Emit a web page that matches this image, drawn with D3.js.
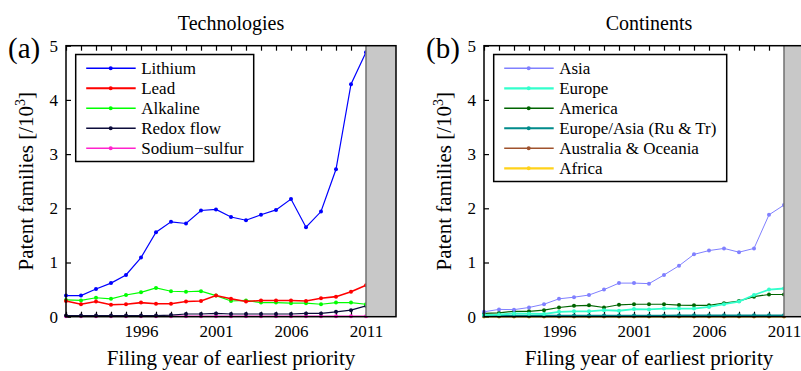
<!DOCTYPE html>
<html lang="en">
<head>
  <meta charset="UTF-8">
  <title>Patent families</title>
  <script src="https://d3js.org/d3.v7.min.js"></script>
  <style>
    body { margin: 0; background: #fff; }
    svg { display: block; font-family: "Liberation Serif", "Times New Roman", serif; }
    .tick text { font-family: "Liberation Serif", "Times New Roman", serif; font-size: 17px; fill: #000; }
    .tick line { stroke: #000; stroke-width: 1.2px; }
    .domain { display: none; }
  </style>
</head>
<body>
  <svg id="chart" width="801" height="371"></svg>

  <script>
    // ----- data -----
    const years = [1991, 1992, 1993, 1994, 1995, 1996, 1997, 1998, 1999, 2000, 2001,
                   2002, 2003, 2004, 2005, 2006, 2007, 2008, 2009, 2010, 2011];
    const labeledYears = [1996, 2001, 2006, 2011];
    const yTicks = [0, 1, 2, 3, 4, 5];

    const techNames = ["Lithium", "Lead", "Alkaline", "Redox flow", "Sodium\u2212sulfur"];
    const techColors = ["#0000ff", "#ff0000", "#00ff00", "#0c0c3a", "#ff22cc"];
    const lithium = [0.39, 0.39, 0.51, 0.62, 0.77, 1.09, 1.56, 1.75, 1.72, 1.96, 1.98,
                     1.84, 1.78, 1.88, 1.97, 2.17, 1.65, 1.94, 2.72, 4.29, 4.88];
    const lead = [0.29, 0.23, 0.28, 0.22, 0.23, 0.26, 0.24, 0.24, 0.28, 0.29, 0.39,
                  0.33, 0.28, 0.30, 0.30, 0.30, 0.29, 0.34, 0.37, 0.46, 0.58];
    const alkaline = [0.31, 0.30, 0.35, 0.33, 0.40, 0.45, 0.53, 0.47, 0.46, 0.47, 0.39,
                      0.29, 0.30, 0.26, 0.26, 0.25, 0.25, 0.23, 0.26, 0.26, 0.23];
    const redox = [0.02, 0.02, 0.02, 0.02, 0.02, 0.02, 0.02, 0.03, 0.05, 0.05, 0.06,
                   0.05, 0.05, 0.05, 0.05, 0.05, 0.06, 0.06, 0.09, 0.12, 0.20];
    const sodium = [0.01, 0.01, 0.01, 0.01, 0.01, 0.01, 0.01, 0.01, 0.01, 0.01, 0.01,
                    0.01, 0.01, 0.01, 0.01, 0.01, 0.01, 0.01, 0.01, 0.01, 0.01];

    const contNames = ["Asia", "Europe", "America", "Europe/Asia (Ru & Tr)", "Australia & Oceania", "Africa"];
    const contColors = ["#8080ff", "#33ffcc", "#006400", "#008b8b", "#a0522d", "#ffd21a"];
    const asia = [0.09, 0.135, 0.13, 0.17, 0.23, 0.33, 0.36, 0.40, 0.50, 0.62, 0.62,
                  0.61, 0.77, 0.94, 1.15, 1.22, 1.26, 1.19, 1.26, 1.88, 2.06];
    const europe = [0.03, 0.04, 0.06, 0.055, 0.05, 0.09, 0.10, 0.10, 0.12, 0.11, 0.14,
                    0.135, 0.15, 0.15, 0.15, 0.18, 0.23, 0.28, 0.40, 0.50, 0.52];
    const america = [0.06, 0.07, 0.10, 0.10, 0.12, 0.17, 0.20, 0.21, 0.17, 0.22, 0.23,
                     0.23, 0.23, 0.215, 0.21, 0.21, 0.25, 0.29, 0.37, 0.41, 0.41];
    const euroAsia = [0.02, 0.02, 0.02, 0.02, 0.02, 0.02, 0.02, 0.02, 0.02, 0.02, 0.02,
                      0.02, 0.02, 0.025, 0.025, 0.025, 0.025, 0.025, 0.025, 0.025, 0.025];
    const australia = [0.01, 0.01, 0.01, 0.01, 0.01, 0.01, 0.01, 0.01, 0.01, 0.01, 0.01,
                       0.01, 0.01, 0.01, 0.01, 0.01, 0.01, 0.01, 0.01, 0.01, 0.01];
    const africa = [0.003, 0.003, 0.003, 0.003, 0.003, 0.003, 0.003, 0.003, 0.003, 0.003, 0.003,
                    0.003, 0.003, 0.003, 0.003, 0.003, 0.003, 0.003, 0.003, 0.003, 0.003];

    const panels = [
      { tag: "(a)", title: "Technologies", left: 66, names: techNames, colors: techColors,
        series: [lithium, lead, alkaline, redox, sodium], legendW: 178,
        widths: [1.2, 1.6, 1.2, 1.2, 1.2] },
      { tag: "(b)", title: "Continents", left: 484, names: contNames, colors: contColors,
        series: [asia, europe, america, euroAsia, australia, africa], legendW: 233,
        widths: [1, 1.8, 1.2, 1.6, 1.2, 1.8] }
    ];

    const plotTop = 45.7, plotBottom = 316.7;
    const svg = d3.select("#chart");

    panels.forEach(p => {
      const x = d3.scaleLinear().domain([1991, 2013]).range([p.left, p.left + 330]);
      const y = d3.scaleLinear().domain([0, 5]).range([plotBottom, plotTop]);
      const g = svg.append("g");

      // ticks
      g.append("g")
        .attr("transform", `translate(0,${plotBottom})`)
        .call(d3.axisBottom(x).tickValues(years).tickSize(-5).tickPadding(8)
          .tickFormat(d => labeledYears.includes(d) ? d : ""));
      g.append("g")
        .attr("transform", `translate(0,${plotTop})`)
        .call(d3.axisTop(x).tickValues(years).tickSize(-5).tickFormat(""));
      g.append("g")
        .attr("transform", `translate(${p.left},0)`)
        .call(d3.axisLeft(y).tickValues(yTicks).tickSize(-5).tickPadding(8)
          .tickFormat(d3.format("d")));

      // series
      const line = d3.line().x((d, i) => x(years[i])).y(d => y(d));
      // draw in reverse so the first series sits on top
      p.series.map((s, k) => k).reverse().forEach(k => {
        const s = p.series[k];
        g.append("path")
          .attr("d", line(s))
          .attr("fill", "none")
          .attr("stroke", p.colors[k])
          .attr("stroke-width", p.widths[k]);
        g.selectAll(null).data(s).enter().append("circle")
          .attr("cx", (d, i) => x(years[i]))
          .attr("cy", d => y(d))
          .attr("r", 2)
          .attr("fill", p.colors[k]);
      });

      // grey future region
      g.append("rect")
        .attr("x", x(2011)).attr("y", plotTop)
        .attr("width", x(2013) - x(2011)).attr("height", plotBottom - plotTop)
        .attr("fill", "#c8c8c8");
      g.append("line")
        .attr("x1", x(2011)).attr("x2", x(2011))
        .attr("y1", plotTop).attr("y2", plotBottom)
        .attr("stroke", "#707070").attr("stroke-width", 1.5);

      // frame
      g.append("rect")
        .attr("x", p.left).attr("y", plotTop)
        .attr("width", x(2013) - p.left).attr("height", plotBottom - plotTop)
        .attr("fill", "none").attr("stroke", "#000").attr("stroke-width", 1.5);

      // legend
      const lx = p.left + 9.7, ly = 54.5;
      const lg = g.append("g");
      lg.append("rect")
        .attr("x", lx).attr("y", ly)
        .attr("width", p.legendW).attr("height", 13.5 * 2 + 20 * (p.names.length - 1))
        .attr("fill", "#fff").attr("stroke", "#000").attr("stroke-width", 1.5);
      p.names.forEach((name, k) => {
        const cy = ly + 13.8 + 20 * k;
        lg.append("line")
          .attr("x1", lx + 10.5).attr("x2", lx + 60)
          .attr("y1", cy).attr("y2", cy)
          .attr("stroke", p.colors[k]).attr("stroke-width", p.widths[k] + 0.4);
        lg.append("circle")
          .attr("cx", lx + 35).attr("cy", cy).attr("r", 2)
          .attr("fill", p.colors[k]);
        lg.append("text")
          .attr("x", lx + 65.5).attr("y", cy).attr("dy", "0.35em")
          .attr("font-size", 17)
          .text(name);
      });

      // titles and labels
      g.append("text")
        .attr("x", (p.left + x(2013)) / 2).attr("y", 30)
        .attr("text-anchor", "middle").attr("font-size", 20)
        .text(p.title);
      g.append("text")
        .attr("x", p.left - 58).attr("y", 58)
        .attr("font-size", 29)
        .text(p.tag);
      g.append("text")
        .attr("x", (p.left + x(2013)) / 2).attr("y", 365)
        .attr("text-anchor", "middle").attr("font-size", 21)
        .text("Filing year of earliest priority");
      const yl = g.append("text")
        .attr("transform", `translate(${p.left - 33},${(plotTop + plotBottom) / 2}) rotate(-90)`)
        .attr("text-anchor", "middle").attr("font-size", 21);
      yl.append("tspan").text("Patent families [/10");
      yl.append("tspan").attr("font-size", 14).attr("dy", -8).text("3");
      yl.append("tspan").attr("dy", 8).text("]");
    });
  </script>
</body>
</html>
